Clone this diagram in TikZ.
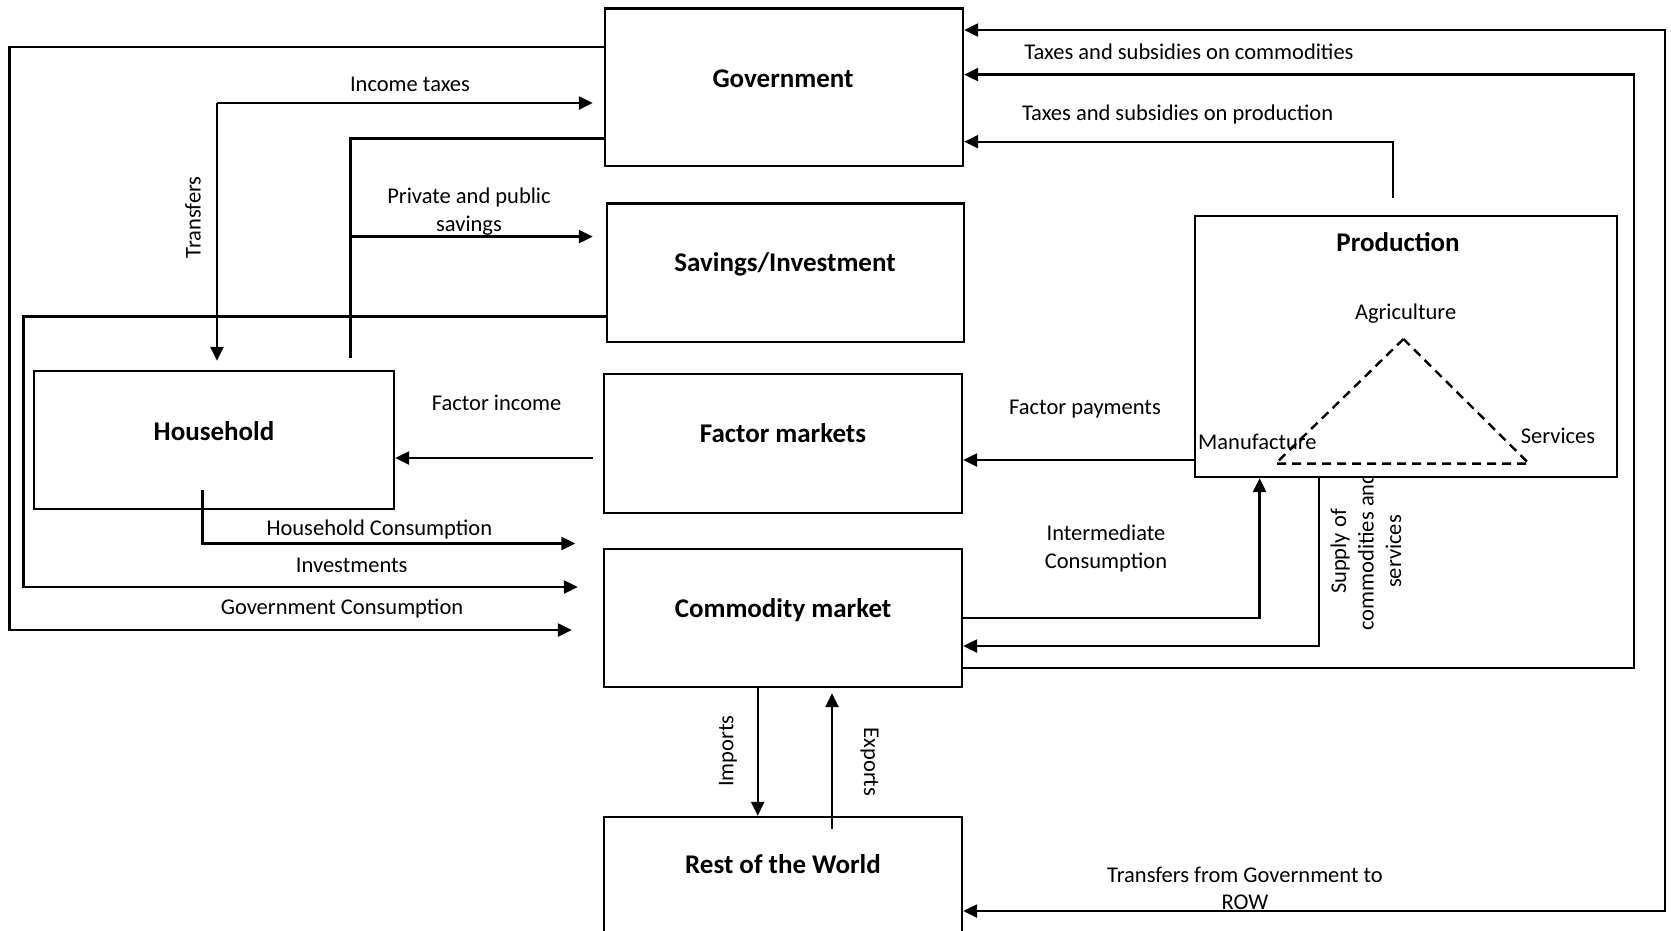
\documentclass[tikz,border=0pt]{standalone}
\usepackage{fontspec}
\setmainfont{Carlito}
\usetikzlibrary{arrows.meta,calc}
\tikzset{
  box/.style={draw, line width=2.4pt, inner sep=0pt, fill=white},
  title/.style={font=\fontsize{27}{32}\selectfont\bfseries, inner sep=0pt},
  lbl/.style={font=\fontsize{22.5}{27.5}\selectfont, align=center, inner sep=0pt},
  flow/.style={line width=2.4pt, -{Triangle[length=14pt,width=13pt]}},
  plain/.style={line width=2.4pt},
  dtri/.style={line width=2.4pt, dash pattern=on 9pt off 6pt},
}
\begin{document}
\begin{tikzpicture}[x=1pt,y=-1pt]
\useasboundingbox (0,0) rectangle (1671,930);
\clip (0,0) rectangle (1671,930);
\fill[white] (0,0) rectangle (1671,930);

% label partly hidden by the production box
\node[lbl, rotate=90] (l12) at (1366,551.5) {Supply of\\commodities and\\services};

% boxes
\node[box, minimum width=358pt, minimum height=157.5pt] (gov) at (784,87.25) {};
\node[title] (govt) at (783,78.5) {Government};
\node[box, minimum width=357pt, minimum height=138.5pt] (sav) at (785.5,272.75) {};
\node[title] (savt) at (785,264.5) {Savings/Investment};
\node[box, minimum width=360pt, minimum height=138pt] (hh) at (214,440) {};
\node[title] (hht) at (214,431) {Household};
\node[box, minimum width=358pt, minimum height=139pt] (fm) at (783,443.5) {};
\node[title] (fmt) at (783,433.2) {Factor markets};
\node[box, minimum width=358pt, minimum height=138pt] (cm) at (783,618) {};
\node[title] (cmt) at (783,610.5) {Commodity market};
\node[box, minimum width=358pt, minimum height=133pt] (row) at (783,883.5) {};
\node[title] (rowt) at (783,864.5) {Rest of the World};
\node[box, minimum width=422pt, minimum height=261pt] (prod) at (1406,346.5) {};
\node[title] (prodt) at (1398,242.5) {Production};

% sectors triangle
\coordinate (ta) at (1403.5,339);
\coordinate (tl) at (1275.6,463.6);
\coordinate (tr) at (1529,463.6);
\draw[dtri] (ta) -- (tl) -- (tr) -- cycle;
\node[lbl] (agr) at (1405.6,314) {Agriculture};
\node[lbl, anchor=west] (man) at (1198,442) {Manufacture};
\node[lbl] (ser) at (1558,436) {Services};

% connectors
\draw[flow, shorten >=31pt] (gov.west |- 0,47) -- (9.5,47) -- (9.5,630) -- (cm.west |- 0,630);

\coordinate (tj) at (217,103);
\draw[flow, shorten >=11pt] (tj) -- (gov.west |- tj);
\draw[flow, shorten >=9pt] (tj) -- (tj |- hh.north);

\coordinate (sj) at (350.6,236.6);
\draw[plain, shorten >=12pt] (gov.west |- 0,138.5) -- (350.6,138.5) -- (sj |- hh.north);
\draw[flow, shorten >=13pt] (sj) -- (sav.west |- sj);

\draw[flow, shorten >=25pt] (sav.west |- 0,316.5) -- (23.4,316.5) -- (23.4,587) -- (cm.west |- 0,587);

\coordinate (hc) at (202.5,490);
\draw[flow, shorten >=27.5pt] (hc) -- (202.5,543.5) -- (cm.west |- 0,543.5);

\draw[flow, shorten <=10pt] (fm.west |- 0,458) -- (hh.east |- 0,458);
\draw[flow] (prod.west |- 0,460) -- (fm.east |- 0,460);

\draw[flow, shorten <=17pt] (prod.north -| 1393,0) -- (1393,141.7) -- (gov.east |- 0,141.7);
\draw[flow] (cm.east |- 0,668) -- (1634,668) -- (1634,74.6) -- (gov.east |- 0,74.6);
\draw[line width=2.4pt, {Triangle[length=14pt,width=13pt]}-{Triangle[length=14pt,width=13pt]}]
  (gov.east |- 0,30) -- (1665,30) -- (1665,911) -- (row.east |- 0,911);

\draw[flow] (cm.east |- 0,618) -- (1259.6,618) -- (prod.south -| 1259.6,0);
\draw[flow] (prod.south -| 1319,0) -- (1319,646) -- (cm.east |- 0,646);

\draw[flow] (cm.south -| 757.7,0) -- (row.north -| 757.7,0);
\coordinate (ex) at (832,829);
\draw[flow, shorten >=5pt] (ex) -- (ex |- cm.south);

% labels
\node[lbl] (l1) at (410,84) {Income taxes};
\node[lbl, rotate=90] (l2) at (193,217.4) {Transfers};
\node[lbl] (l3) at (469,211.5) {Private and public\\savings};
\node[lbl] (l4) at (496.6,403) {Factor income};
\node[lbl] (l5) at (379.4,529.5) {Household Consumption};
\node[lbl] (l6) at (351.7,565) {Investments};
\node[lbl] (l7) at (342,609) {Government Consumption};
\node[lbl] (l8) at (1189,52) {Taxes and subsidies on commodities};
\node[lbl] (l9) at (1177.6,114) {Taxes and subsidies on production};
\node[lbl] (l10) at (1085,409.5) {Factor payments};
\node[lbl] (l11) at (1106,548.5) {Intermediate\\Consumption};
\node[lbl, rotate=90] (l13) at (728,751) {Imports};
\node[lbl, rotate=-90] (l14) at (869.6,762) {Exports};
\node[lbl] (l15) at (1245,888.5) {Transfers from Government to\\ROW};
\end{tikzpicture}
\end{document}
